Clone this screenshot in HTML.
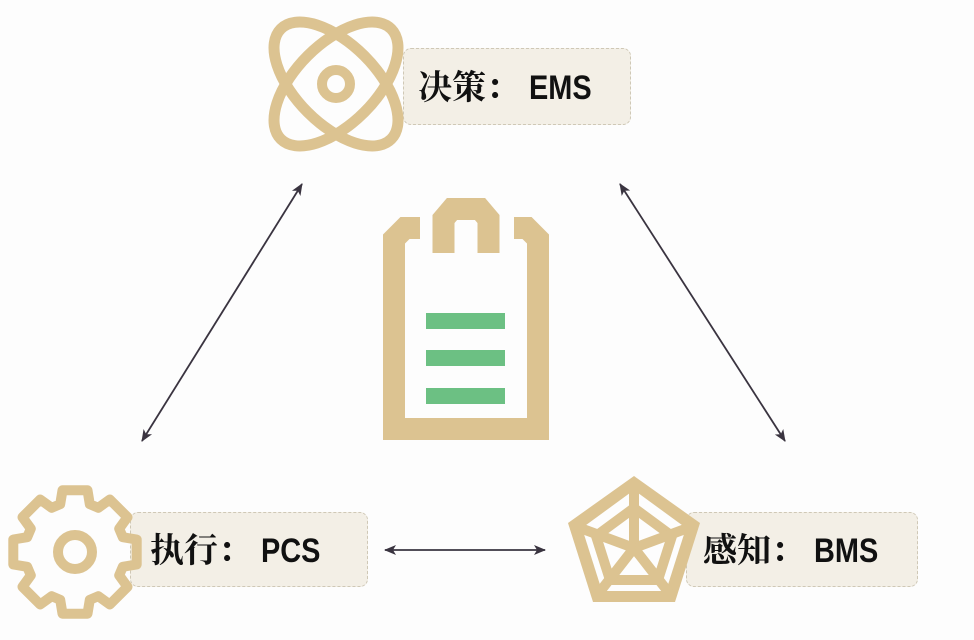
<!DOCTYPE html>
<html><head><meta charset="utf-8"><style>
body{margin:0;background:#fdfdfd;}
.box{position:absolute;background:#f3efe6;border:1px dashed #cfc8b6;border-radius:8px;box-sizing:border-box;}
.t{position:absolute;font-family:"Liberation Sans","Noto Serif CJK SC",serif;font-weight:bold;font-size:34px;color:#111;white-space:nowrap;line-height:1;}
.t span{display:inline-block;transform:scaleX(0.85);transform-origin:left;}
</style></head><body>
<div style="position:relative;width:974px;height:640px;overflow:hidden;">
<div class="box" style="left:403px;top:48px;width:228px;height:77px;"></div>
<div class="box" style="left:130px;top:512px;width:238px;height:75px;"></div>
<div class="box" style="left:686px;top:512px;width:232px;height:75px;"></div>
<svg width="974" height="640" style="position:absolute;left:0;top:0">
<defs><marker id="a" markerWidth="12" markerHeight="12" refX="11" refY="6" orient="auto-start-reverse" markerUnits="userSpaceOnUse"><path d="M0,1 L12,6 L0,11 L3,6z" fill="#3a3440"/></marker></defs>
<g stroke="#3a3440" stroke-width="1.8" fill="none" marker-start="url(#a)" marker-end="url(#a)">
<line x1="302" y1="184" x2="142" y2="441"/>
<line x1="620" y1="184" x2="785" y2="441"/>
<line x1="385" y1="550" x2="545" y2="550"/>
</g>
<g fill="none" stroke="#dcc391" stroke-width="11">
<ellipse cx="336" cy="84" rx="78" ry="40" transform="rotate(45 336 84)"/>
<ellipse cx="336" cy="84" rx="78" ry="40" transform="rotate(-45 336 84)"/>
<circle cx="336" cy="84" r="14" stroke-width="10"/>
</g>
<g fill="none" stroke="#dcc391" stroke-width="22" stroke-linejoin="miter">
<path d="M420,228 H405 L394,239 V429 H538 V239 L527,228 H514"/>
<path d="M443.5,253 V219 L452,209 H480 L488.5,219 V253"/>
</g>
<g fill="#6cc083">
<rect x="426" y="313" width="79" height="16"/>
<rect x="426" y="350" width="79" height="16"/>
<rect x="426" y="388" width="79" height="16"/>
</g>
<g fill="none" stroke="#dcc391" stroke-width="10" stroke-linejoin="round">
<path id="gear" d=""/>
<circle cx="75" cy="552" r="17"/>
</g>
<g>
<polygon points="634,476 700,523 675,602 593,602 568,523" fill="#dcc391"/>
<polygon points="634,490 686,528 666,591 602,591 582,528" fill="#fdfdfd"/>
<g stroke="#dcc391" stroke-width="10" fill="none" stroke-linejoin="miter">
<polygon points="634,508 672,536 658,580 610,580 596,536"/>
<line x1="634" y1="548" x2="634" y2="480"/>
<line x1="634" y1="548" x2="696" y2="525"/>
<line x1="634" y1="548" x2="673" y2="598"/>
<line x1="634" y1="548" x2="595" y2="598"/>
<line x1="634" y1="548" x2="572" y2="525"/>
</g>
</g>
</svg>
<div class="t" style="left:418px;top:71px;">决策： <span>EMS</span></div>
<div class="t" style="left:150px;top:534px;">执行： <span>PCS</span></div>
<div class="t" style="left:703px;top:534px;">感知： <span>BMS</span></div>
</div>
<script>
(function(){var cx=75,cy=552,R=63,r=50,n=8,d="";for(var i=0;i<n;i++){var a0=i*2*Math.PI/n;var w=0.2;var pts=[[r,a0-0.3],[R,a0-w],[R,a0+w],[r,a0+0.3]];pts.forEach(function(p,j){var x=cx+p[0]*Math.cos(p[1]-Math.PI/2),y=cy+p[0]*Math.sin(p[1]-Math.PI/2);d+=(i==0&&j==0?"M":"L")+x.toFixed(1)+","+y.toFixed(1)+" ";});}
document.getElementById("gear").setAttribute("d",d+"Z");})();
</script>
</body></html>
